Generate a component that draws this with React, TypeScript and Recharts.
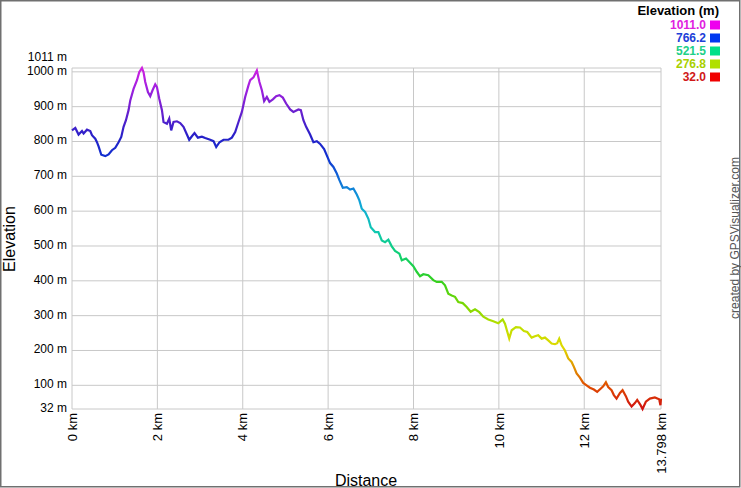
import React from "react";
import { LineChart, Line, XAxis, YAxis, CartesianGrid } from "recharts";

const distanceKm = [
  0, 0.077, 0.154, 0.234, 0.272, 0.351, 0.428, 0.468, 0.545, 0.585, 0.623, 0.686, 0.78, 0.857, 0.936,
  1.014, 1.091, 1.154, 1.208, 1.264, 1.325, 1.365, 1.442, 1.522, 1.575, 1.639, 1.676, 1.716, 1.779, 1.833,
  1.887, 1.95, 1.99, 2.044, 2.107, 2.144, 2.224, 2.278, 2.324, 2.378, 2.458, 2.535, 2.612, 2.692, 2.746,
  2.809, 2.87, 2.949, 3.043, 3.12, 3.237, 3.315, 3.378, 3.455, 3.549, 3.666, 3.745, 3.823, 3.9, 3.979,
  4.057, 4.134, 4.174, 4.251, 4.331, 4.391, 4.448, 4.501, 4.565, 4.625, 4.705, 4.782, 4.86, 4.939, 5.016,
  5.11, 5.187, 5.304, 5.361, 5.421, 5.485, 5.578, 5.655, 5.735, 5.812, 5.906, 5.969, 6.046, 6.124, 6.203,
  6.264, 6.344, 6.437, 6.515, 6.592, 6.671, 6.732, 6.788, 6.866, 6.943, 6.999, 7.1, 7.177, 7.257, 7.334,
  7.411, 7.491, 7.568, 7.669, 7.725, 7.825, 7.919, 7.996, 8.076, 8.153, 8.23, 8.347, 8.464, 8.544, 8.661,
  8.738, 8.815, 8.895, 8.972, 9.05, 9.153, 9.246, 9.34, 9.441, 9.541, 9.635, 9.752, 9.869, 9.986, 10.089,
  10.143, 10.243, 10.3, 10.4, 10.494, 10.587, 10.665, 10.768, 10.845, 10.922, 11.002, 11.08, 11.157, 11.236, 11.314,
  11.367, 11.414, 11.47, 11.548, 11.625, 11.704, 11.758, 11.821, 11.899, 11.976, 12.055, 12.133, 12.226, 12.303, 12.383,
  12.444, 12.507, 12.561, 12.64, 12.694, 12.757, 12.837, 12.898, 12.975, 13.029, 13.109, 13.186, 13.24, 13.319, 13.366,
  13.443, 13.537, 13.654, 13.755, 13.785, 13.798,
];

const elevationM = [
  832, 839, 820, 830, 823, 834, 830, 818, 808, 798, 786, 762, 758, 763, 775,
  782, 798, 813, 842, 861, 890, 918, 951, 976, 999, 1011, 999, 971, 942, 930,
  947, 964, 956, 923, 890, 856, 851, 866, 832, 856, 858, 853, 842, 820, 805,
  815, 824, 811, 814, 810, 805, 801, 784, 798, 805, 805, 811, 827, 856, 885,
  928, 961, 976, 984, 1004, 971, 947, 916, 928, 914, 921, 930, 933, 926, 909,
  892, 885, 892, 890, 861, 842, 820, 798, 801, 793, 778, 760, 738, 727, 708,
  689, 667, 669, 662, 665, 648, 631, 607, 598, 578, 554, 540, 540, 516, 511,
  518, 499, 486, 478, 459, 464, 452, 442, 426, 413, 419, 416, 402, 397, 397,
  387, 363, 358, 354, 339, 336, 325, 311, 318, 310, 297, 289, 284, 278, 289,
  277, 234, 258, 267, 266, 256, 253, 237, 241, 244, 234, 237, 229, 220, 218,
  221, 234, 215, 200, 177, 167, 153, 134, 122, 107, 100, 93, 88, 81, 90,
  97, 109, 95, 86, 72, 62, 78, 86, 69, 53, 39, 49, 58, 43, 32,
  53, 62, 65, 60, 43, 62,
];

const xTicks = [0, 2, 4, 6, 8, 10, 12, 13.798];
const yTicks = [32, 100, 200, 300, 400, 500, 600, 700, 800, 900, 1000, 1011];

const legendTitle = "Elevation (m)";
const legendValues = ["1011.0", "766.2", "521.5", "276.8", "32.0"];
const legendTextColors = ["#e020e0", "#2040d8", "#20d088", "#a8d000", "#d01818"];
const legendSwatchColors = ["#ee00ee", "#0038f0", "#00e088", "#b0e000", "#f00000"];

const gradientStops: [number, string][] = [
  [0, "#d020e0"],
  [0.06, "#a020e0"],
  [0.12, "#7020d0"],
  [0.2, "#2820c8"],
  [0.26, "#1030d0"],
  [0.33, "#1070d8"],
  [0.4, "#10a8d8"],
  [0.48, "#10c8b0"],
  [0.55, "#10d070"],
  [0.62, "#30d020"],
  [0.7, "#80d800"],
  [0.76, "#c0e000"],
  [0.82, "#e0d800"],
  [0.88, "#e09000"],
  [0.93, "#e05000"],
  [1, "#d01010"],
];

const data = distanceKm.map((d, i) => ({ d, e: elevationM[i] }));

const FONT = "'Liberation Sans', Arial, Helvetica, sans-serif";

const YTick = (props: any) => {
  const { x, y, payload } = props;
  const shift = payload.value === 1011 ? -11 : -1;
  return (
    <text x={x} y={y + shift} textAnchor="end" dominantBaseline="central" fontSize={12} fontFamily={FONT} fill="#000">
      {payload.value} m
    </text>
  );
};

const XTick = (props: any) => {
  const { x, y, payload } = props;
  return (
    <text
      x={x}
      y={y}
      transform={`rotate(-90 ${x} ${y})`}
      textAnchor="end"
      dy="0.36em"
      fontSize={13}
      fontFamily={FONT}
      fill="#000"
    >
      {payload.value} km
    </text>
  );
};

export default function App() {
  return (
    <div style={{ position: "relative", width: 741, height: 488, background: "#fff" }}>
      <style>{"body{margin:0;}"}</style>
      <LineChart width={741} height={488} data={data} margin={{ top: 68, right: 80, bottom: 0, left: 0 }}>
        <defs>
          <linearGradient id="elevGrad" x1="0" y1="0" x2="0" y2="1">
            {gradientStops.map(([o, c]) => (
              <stop key={o} offset={o} stopColor={c} />
            ))}
          </linearGradient>
        </defs>
        <CartesianGrid stroke="#c8c8c8" strokeWidth={1} />
        <XAxis
          dataKey="d"
          type="number"
          domain={[0, 13.798]}
          ticks={xTicks}
          interval={0}
          height={79}
          axisLine={false}
          tickLine={false}
          tickSize={3}
          tickMargin={1}
          tick={<XTick />}
        />
        <YAxis
          type="number"
          domain={[32, 1011]}
          ticks={yTicks}
          interval={0}
          width={72}
          axisLine={false}
          tickLine={false}
          tickSize={3}
          tickMargin={2}
          tick={<YTick />}
        />
        <Line
          type="linear"
          dataKey="e"
          stroke="url(#elevGrad)"
          strokeWidth={2.2}
          dot={false}
          isAnimationActive={false}
        />
      </LineChart>
      <svg width={741} height={488} style={{ position: "absolute", left: 0, top: 0, pointerEvents: "none" }}>
        <rect x={0.75} y={0.75} width={739} height={486} fill="none" stroke="#707070" strokeWidth={1.5} />
        <text x={15} y={239} transform="rotate(-90 15 239)" textAnchor="middle" fontSize={16} fontFamily={FONT} fill="#000">
          Elevation
        </text>
        <text x={366} y={486} textAnchor="middle" fontSize={16} fontFamily={FONT} fill="#000">
          Distance
        </text>
        <text x={739} y={238} transform="rotate(-90 739 238)" textAnchor="middle" fontSize={12} fontFamily={FONT} fill="#555">
          created by GPSVisualizer.com
        </text>
        <text x={719} y={15} textAnchor="end" fontSize={13} fontWeight="bold" fontFamily={FONT} fill="#000">
          {legendTitle}
        </text>
        {legendValues.map((v, i) => (
          <g key={v}>
            <text x={706} y={25 + i * 13} dominantBaseline="central" textAnchor="end" fontSize={12} fontWeight="bold" fontFamily={FONT} fill={legendTextColors[i]}>
              {v}
            </text>
            <rect x={710} y={20.5 + i * 13} width={10} height={9} fill={legendSwatchColors[i]} />
          </g>
        ))}
      </svg>
    </div>
  );
}
